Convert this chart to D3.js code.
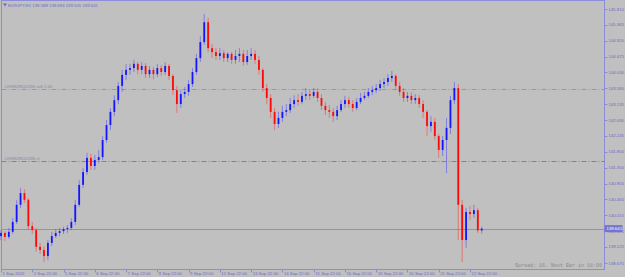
<!DOCTYPE html>
<html>
<head>
<meta charset="utf-8">
<script src="https://cdn.jsdelivr.net/npm/d3@7"></script>
<style>
body { margin: 0; background: #c0c0c0; }
svg { display: block; }
</style>
</head>
<body>
<div id="chart"></div>
<script>
// EURJPY H1, one candle here = 3 hours (8 per day label)
var symbol = "EURJPY,H1";
var lastBar = [139.588, 139.694, 139.505, 139.641];

var opens = [
  139.43, 139.52, 139.41, 139.55, 139.83, 140.31, 140.64, 140.45, 139.71, 139.60,
  139.13, 139.04, 138.87, 139.24, 139.43, 139.52, 139.57, 139.63, 139.66, 139.83,
  140.31, 140.87, 141.23, 141.63, 141.40, 141.57, 141.65, 142.13, 142.55, 142.92,
  143.25, 143.65, 143.96, 144.10, 144.15, 144.27, 144.10, 144.21, 143.98, 144.10,
  143.98, 144.15, 144.04, 144.21, 143.93, 143.53, 143.14, 143.42, 143.48, 143.70,
  144.04, 144.43, 144.88, 145.44, 144.71, 144.60, 144.49, 144.57, 144.43, 144.55,
  144.38, 144.49, 144.55, 144.32, 144.49, 144.55, 144.38, 144.10, 143.59, 143.31,
  142.92, 142.58, 142.75, 142.92, 142.97, 143.14, 143.25, 143.20, 143.37, 143.42,
  143.37, 143.48, 143.31, 143.09, 142.97, 142.92, 142.80, 142.97, 143.14, 143.25,
  143.14, 143.03, 143.20, 143.31, 143.37, 143.48, 143.53, 143.59, 143.70, 143.76,
  143.87, 143.93, 143.65, 143.48, 143.31, 143.37, 143.25, 143.31, 143.14, 142.92,
  142.52, 142.64, 142.24, 141.85, 142.13, 142.47, 143.25, 143.59, 140.31, 139.32,
  140.11, 140.05, 140.16, 139.588
];
var highs = [
  139.60, 139.57, 139.66, 139.94, 140.45, 140.78, 140.75, 140.50, 139.83, 139.66,
  139.24, 139.15, 139.32, 139.55, 139.63, 139.66, 139.69, 139.74, 139.94, 140.45,
  141.01, 141.34, 141.77, 141.74, 141.71, 141.85, 142.24, 142.69, 143.03, 143.39,
  143.76, 144.10, 144.27, 144.27, 144.38, 144.32, 144.32, 144.29, 144.21, 144.18,
  144.27, 144.24, 144.32, 144.27, 143.98, 143.65, 143.53, 143.62, 143.82, 144.15,
  144.55, 145.05, 145.67, 145.56, 144.83, 144.71, 144.71, 144.66, 144.60, 144.60,
  144.66, 144.71, 144.66, 144.66, 144.71, 144.66, 144.49, 144.15, 143.70, 143.42,
  143.03, 142.92, 143.09, 143.14, 143.31, 143.39, 143.42, 143.48, 143.59, 143.56,
  143.59, 143.59, 143.42, 143.20, 143.11, 143.03, 143.09, 143.25, 143.37, 143.34,
  143.25, 143.31, 143.45, 143.48, 143.59, 143.65, 143.70, 143.82, 143.87, 143.98,
  144.07, 143.98, 143.76, 143.59, 143.48, 143.48, 143.42, 143.39, 143.25, 142.97,
  142.80, 142.75, 142.30, 142.24, 142.75, 143.37, 143.76, 143.70, 140.45, 140.22,
  140.28, 140.31, 140.22, 139.694
];
var lows = [
  139.32, 139.29, 139.35, 139.49, 139.77, 140.22, 140.36, 139.60, 139.49, 138.99,
  138.93, 138.70, 138.76, 139.15, 139.38, 139.43, 139.49, 139.52, 139.60, 139.74,
  140.25, 140.78, 141.15, 141.29, 141.29, 141.49, 141.57, 142.05, 142.41, 142.80,
  143.14, 143.48, 143.82, 143.96, 144.04, 143.98, 143.98, 143.87, 143.87, 143.84,
  143.90, 143.93, 143.96, 143.82, 143.39, 142.89, 143.03, 143.31, 143.37, 143.62,
  143.96, 144.32, 144.80, 144.60, 144.43, 144.38, 144.38, 144.32, 144.32, 144.27,
  144.27, 144.32, 144.21, 144.24, 144.38, 144.27, 143.96, 143.48, 143.14, 142.75,
  142.41, 142.47, 142.64, 142.80, 142.89, 143.03, 143.09, 143.14, 143.25, 143.25,
  143.31, 143.20, 142.97, 142.83, 142.75, 142.64, 142.69, 142.92, 143.03, 143.03,
  142.92, 142.97, 143.14, 143.25, 143.31, 143.39, 143.45, 143.51, 143.59, 143.65,
  143.76, 143.53, 143.37, 143.20, 143.20, 143.14, 143.14, 143.03, 142.75, 142.24,
  142.36, 142.13, 141.63, 141.68, 141.20, 142.30, 143.14, 139.32, 138.70, 139.10,
  139.88, 139.94, 139.52, 139.505
];
var closes = [
  139.52, 139.41, 139.55, 139.83, 140.31, 140.64, 140.45, 139.71, 139.60, 139.13,
  139.04, 138.87, 139.24, 139.43, 139.52, 139.57, 139.63, 139.66, 139.83, 140.31,
  140.87, 141.23, 141.63, 141.40, 141.57, 141.65, 142.13, 142.55, 142.92, 143.25,
  143.65, 143.96, 144.10, 144.15, 144.27, 144.10, 144.21, 143.98, 144.10, 143.98,
  144.15, 144.04, 144.21, 143.93, 143.53, 143.14, 143.42, 143.48, 143.70, 144.04,
  144.43, 144.88, 145.44, 144.71, 144.60, 144.49, 144.57, 144.43, 144.55, 144.38,
  144.49, 144.55, 144.32, 144.49, 144.55, 144.38, 144.10, 143.59, 143.31, 142.92,
  142.58, 142.75, 142.92, 142.97, 143.14, 143.25, 143.20, 143.37, 143.42, 143.37,
  143.48, 143.31, 143.09, 142.97, 142.92, 142.80, 142.97, 143.14, 143.25, 143.14,
  143.03, 143.20, 143.31, 143.37, 143.48, 143.53, 143.59, 143.70, 143.76, 143.87,
  143.93, 143.65, 143.48, 143.31, 143.37, 143.25, 143.31, 143.14, 142.92, 142.52,
  142.64, 142.24, 141.85, 142.13, 142.47, 143.25, 143.59, 140.31, 139.32, 140.11,
  140.05, 140.16, 139.59, 139.641
];

var priceTicks = [145.810, 145.365, 144.920, 144.475, 144.030, 143.580, 143.135, 142.690,
  142.245, 141.800, 141.350, 140.905, 140.460, 140.015, 139.570, 139.125, 138.675];
var dateLabels = ["1 Sep 2022", "2 Sep 22:00", "5 Sep 22:00", "6 Sep 22:00", "7 Sep 22:00",
  "8 Sep 22:00", "9 Sep 22:00", "12 Sep 22:00", "13 Sep 22:00", "14 Sep 22:00",
  "15 Sep 22:00", "16 Sep 22:00", "19 Sep 22:00", "20 Sep 22:00", "21 Sep 22:00", "22 Sep 22:00"];
var barsPerLabel = 8;

var sellLevel = 143.56;
var slLevel = 141.54;
var bid = 139.641;
var sellText = "#208929610336 sell 1.00";
var slText = "#208929610336 sl";
var spreadText = "Spread: 16. Next Bar in 18:06";

var width = 625, height = 277;
var plotLeft = 1.5, plotRight = 604.5, plotTop = 0.5, plotBottom = 269.5;
var frameColor = "#8c8cd8";
var textColor = "#6a6ac6";

var svg = d3.select("#chart")
  .append("svg")
  .attr("width", width)
  .attr("height", height)
  .style("font-family", "'Liberation Sans', Arial, sans-serif");

svg.append("rect")
  .attr("width", width).attr("height", height)
  .attr("fill", "#c0c0c0");

var x = d3.scaleLinear().domain([0, 120]).range([1, 470]);
var y = d3.scaleLinear().domain([138.675, 145.810]).range([263, 9]);

var bars = opens.map(function(o, i) {
  return { i: i, o: o, h: highs[i], l: lows[i], c: closes[i] };
});

// frame
svg.append("rect")
  .attr("x", plotLeft).attr("y", plotTop)
  .attr("width", plotRight - plotLeft).attr("height", plotBottom - plotTop)
  .attr("fill", "none")
  .attr("stroke", frameColor)
  .attr("stroke-width", 1);

// order lines
function levelLine(price, color, dash, label) {
  var yy = Math.round(y(price)) + 0.5;
  svg.append("line")
    .attr("x1", plotLeft).attr("x2", plotRight)
    .attr("y1", yy).attr("y2", yy)
    .attr("stroke", color)
    .attr("stroke-width", 1)
    .attr("stroke-dasharray", dash);
  if (label) {
    svg.append("text")
      .attr("x", 4).attr("y", yy - 1.5)
      .attr("font-size", 4.3)
      .attr("fill", "#8686a8")
      .text(label);
  }
}
levelLine(sellLevel, "#62c062", "5,2,1,2", sellText);
levelLine(slLevel, "#d86060", "5,2,1,2", slText);
levelLine(bid, "#8a9aa4", null, null);

// candles
var candle = svg.append("g").selectAll("g")
  .data(bars)
  .enter().append("g");

candle.append("line")
  .attr("x1", function(d) { return x(d.i); })
  .attr("x2", function(d) { return x(d.i); })
  .attr("y1", function(d) { return y(d.h); })
  .attr("y2", function(d) { return y(d.l); })
  .attr("stroke", function(d) { return d.c >= d.o ? "#4040ff" : "#ff3030"; })
  .attr("stroke-opacity", 0.5)
  .attr("stroke-width", 1);

candle.append("rect")
  .attr("x", function(d) { return x(d.i) - 0.9; })
  .attr("width", 1.8)
  .attr("y", function(d) { return y(Math.max(d.o, d.c)); })
  .attr("height", function(d) { return Math.max(1, Math.abs(y(d.o) - y(d.c))); })
  .attr("fill", function(d) { return d.c >= d.o ? "#1414ff" : "#ff0808"; });

// right price axis
var ticks = svg.append("g");
ticks.selectAll("line")
  .data(priceTicks)
  .enter().append("line")
  .attr("x1", plotRight).attr("x2", plotRight + 3)
  .attr("y1", function(d) { return Math.round(y(d)) + 0.5; })
  .attr("y2", function(d) { return Math.round(y(d)) + 0.5; })
  .attr("stroke", frameColor);
ticks.selectAll("text")
  .data(priceTicks)
  .enter().append("text")
  .attr("x", plotRight + 4)
  .attr("y", function(d) { return y(d); })
  .attr("dy", "0.35em")
  .attr("font-size", 4.3)
  .attr("fill", textColor)
  .text(function(d) { return d.toFixed(3); });

// bid price box
var by = y(bid);
svg.append("rect")
  .attr("x", plotRight).attr("y", by - 3.5)
  .attr("width", 18).attr("height", 7)
  .attr("fill", "#7474d0");
svg.append("text")
  .attr("x", plotRight + 2).attr("y", by)
  .attr("dy", "0.35em")
  .attr("font-size", 4.3)
  .attr("fill", "#ffffff")
  .text(bid.toFixed(3));

// time axis
var dates = svg.append("g");
dates.selectAll("line")
  .data(dateLabels)
  .enter().append("line")
  .attr("x1", function(d, k) { return Math.round(x(k * barsPerLabel)) + 0.5; })
  .attr("x2", function(d, k) { return Math.round(x(k * barsPerLabel)) + 0.5; })
  .attr("y1", plotBottom).attr("y2", plotBottom + 3)
  .attr("stroke", frameColor);
dates.selectAll("text")
  .data(dateLabels)
  .enter().append("text")
  .attr("x", function(d, k) { return x(k * barsPerLabel) + 1.5; })
  .attr("y", 274.5)
  .attr("font-size", 4.3)
  .attr("fill", textColor)
  .text(function(d) { return d; });

// header
svg.append("path")
  .attr("d", "M3,3.5 L7,3.5 L5,6.5 Z")
  .attr("fill", textColor);
svg.append("text")
  .attr("x", 8).attr("y", 6.5)
  .attr("font-size", 4.3)
  .attr("fill", textColor)
  .text(symbol + "  " + lastBar.map(function(v) { return v.toFixed(3); }).join(" "));

// spread info
svg.append("text")
  .attr("x", 602).attr("y", 267)
  .attr("text-anchor", "end")
  .attr("font-family", "'Liberation Mono', 'DejaVu Sans Mono', monospace")
  .attr("font-size", 5)
  .attr("fill", "#8a8a8a")
  .text(spreadText);
</script>
</body>
</html>
